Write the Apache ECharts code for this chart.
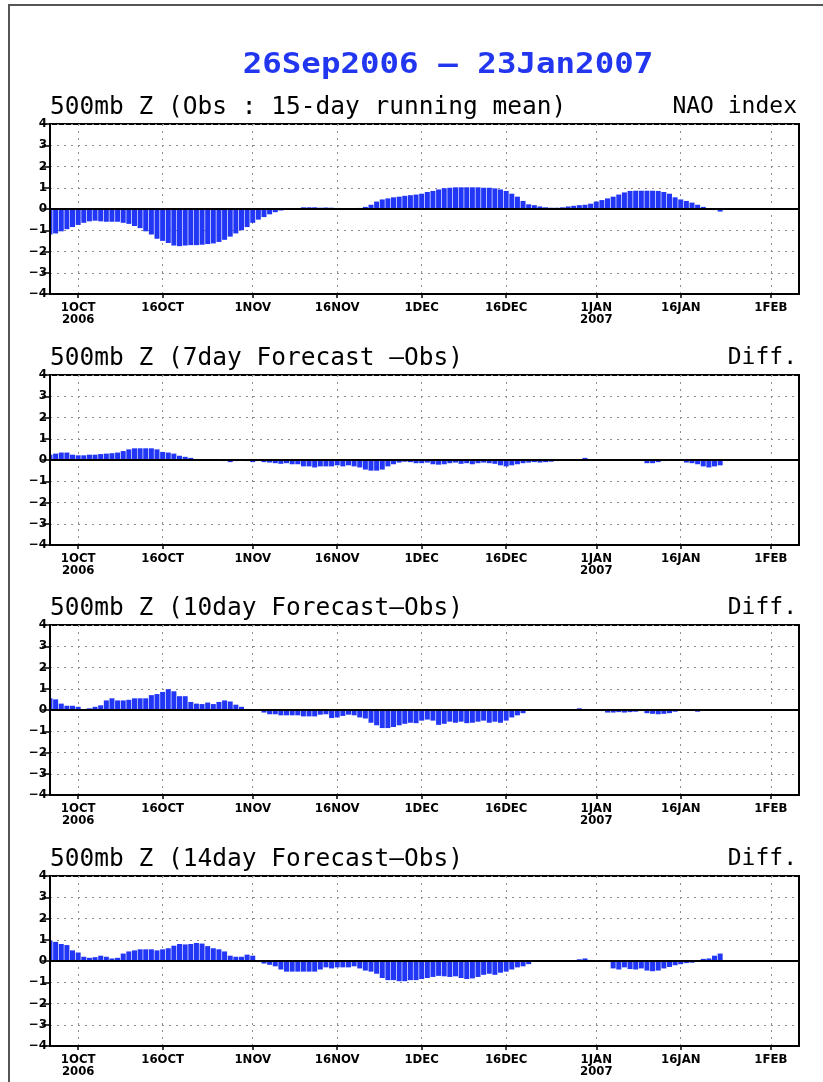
<!DOCTYPE html>
<html><head><meta charset="utf-8">
<script src="https://cdn.jsdelivr.net/npm/echarts@6/dist/echarts.min.js"></script>
<style>html,body{margin:0;padding:0;background:#fff}#c{width:823px;height:1082px}</style>
</head><body><div id="c"></div>
<script>
// Days counted from 1 Oct 2006; first value is 26 Sep 2006
const startDay = -5;
const axisMinDay = -5;   // 26 Sep 2006
const axisMaxDay = 128;  // 6 Feb 2007
const tickDays = [0, 15, 31, 46, 61, 76, 92, 107, 123];
const tickLabels = ['1OCT\n2006', '16OCT', '1NOV', '16NOV', '1DEC', '16DEC', '1JAN\n2007', '16JAN', '1FEB'];
const mainTitle = '26Sep2006 \u2013 23Jan2007';
const panelTitles = [
  '500mb Z (Obs : 15-day running mean)',
  '500mb Z (7day Forecast \u2013Obs)',
  '500mb Z (10day Forecast\u2013Obs)',
  '500mb Z (14day Forecast\u2013Obs)'
];
const panelRight = ['NAO index', 'Diff.', 'Diff.', 'Diff.'];

const nao = [
  -1.2, -1.15, -1.05, -0.95, -0.85,
  -0.75, -0.65, -0.58, -0.55, -0.58, -0.6, -0.6, -0.6, -0.65, -0.7,
  -0.8, -0.9, -1.05, -1.2, -1.4, -1.5, -1.6, -1.72, -1.75, -1.72,
  -1.7, -1.7, -1.68, -1.65, -1.62, -1.55, -1.45, -1.3, -1.15, -1.0,
  -0.85, -0.65, -0.5, -0.38, -0.25, -0.15, -0.07, -0.02, 0.0, 0.02,
  0.08, 0.08, 0.08, 0.06, 0.07, 0.06, 0.05, 0.0, 0.0, 0.02,
  0.05, 0.1, 0.2, 0.35, 0.45, 0.5, 0.55, 0.58, 0.62, 0.65,
  0.68, 0.72, 0.8, 0.85, 0.92, 0.98, 1.0, 1.02, 1.02, 1.02,
  1.02, 1.02, 1.0, 1.0, 0.97, 0.92, 0.85, 0.72, 0.58, 0.38,
  0.22, 0.18, 0.12, 0.08, 0.06, 0.06, 0.08, 0.12, 0.15, 0.18,
  0.2, 0.25, 0.35, 0.42, 0.5, 0.58, 0.68, 0.78, 0.85, 0.86,
  0.86, 0.86, 0.86, 0.85, 0.8, 0.72, 0.55, 0.45, 0.38, 0.3,
  0.2, 0.1, 0.03, -0.05, -0.12
];
const diff7 = [
  0.25, 0.3, 0.35, 0.35, 0.25,
  0.22, 0.22, 0.25, 0.25, 0.28, 0.3, 0.32, 0.35, 0.42, 0.5,
  0.55, 0.55, 0.55, 0.55, 0.5, 0.38, 0.35, 0.3, 0.2, 0.15,
  0.1, 0.02, 0, 0, 0, 0, -0.05, -0.1, -0.05, -0.02,
  -0.05, -0.1, -0.05, -0.1, -0.12, -0.15, -0.18, -0.15, -0.2, -0.2,
  -0.3, -0.3, -0.35, -0.3, -0.3, -0.3, -0.25, -0.3, -0.25, -0.3,
  -0.35, -0.45, -0.5, -0.5, -0.45, -0.3, -0.2, -0.12, -0.08, -0.1,
  -0.15, -0.15, -0.12, -0.2, -0.22, -0.2, -0.15, -0.12, -0.18, -0.15,
  -0.2, -0.15, -0.12, -0.15, -0.18, -0.25, -0.3, -0.25, -0.2, -0.15,
  -0.12, -0.1, -0.12, -0.1, -0.08, -0.05, 0, 0, 0, 0,
  0.1, 0, 0, 0, 0, 0, 0, 0, 0, 0,
  -0.05, -0.15, -0.15, -0.1, -0.05, 0, 0, 0, -0.12, -0.15,
  -0.2, -0.3, -0.35, -0.3, -0.25
];
const diff10 = [
  0.55, 0.5, 0.3, 0.2, 0.2,
  0.15, 0.05, 0.08, 0.15, 0.22, 0.45, 0.55, 0.45, 0.45, 0.48,
  0.55, 0.55, 0.55, 0.7, 0.75, 0.85, 0.98, 0.88, 0.65, 0.65,
  0.38, 0.3, 0.28, 0.35, 0.28, 0.38, 0.45, 0.4, 0.25, 0.15,
  0.05, 0, -0.02, -0.12, -0.2, -0.2, -0.25, -0.25, -0.25, -0.25,
  -0.3, -0.3, -0.3, -0.22, -0.2, -0.38, -0.35, -0.28, -0.22, -0.25,
  -0.35, -0.4, -0.6, -0.72, -0.85, -0.85, -0.8, -0.72, -0.65, -0.6,
  -0.62, -0.5, -0.45, -0.5, -0.7, -0.65, -0.55, -0.6, -0.55, -0.62,
  -0.6, -0.55, -0.5, -0.6, -0.55, -0.6, -0.5, -0.35, -0.25, -0.15,
  0, 0, 0, 0, 0, 0, 0, 0, 0, 0.08,
  0.05, 0, 0, -0.05, -0.12, -0.12, -0.1, -0.12, -0.1, -0.08,
  -0.05, -0.15, -0.18, -0.2, -0.18, -0.15, -0.08, 0, 0, 0,
  -0.08, 0, 0, 0, 0
];
const diff14 = [
  0.95, 0.9, 0.8, 0.75, 0.5,
  0.4, 0.2, 0.15, 0.18, 0.25, 0.2, 0.12, 0.15, 0.35, 0.45,
  0.5, 0.55, 0.55, 0.55, 0.5, 0.55, 0.6, 0.72, 0.8, 0.78,
  0.8, 0.85, 0.82, 0.7, 0.6, 0.55, 0.45, 0.25, 0.2, 0.2,
  0.3, 0.25, -0.05, -0.12, -0.18, -0.25, -0.4, -0.5, -0.5, -0.5,
  -0.5, -0.5, -0.5, -0.4, -0.3, -0.35, -0.3, -0.3, -0.3, -0.25,
  -0.35, -0.45, -0.5, -0.6, -0.8, -0.9, -0.9, -0.95, -0.95, -0.9,
  -0.9, -0.85, -0.8, -0.75, -0.7, -0.72, -0.75, -0.72, -0.8, -0.85,
  -0.82, -0.75, -0.65, -0.6, -0.65, -0.55, -0.5, -0.4, -0.3, -0.25,
  -0.15, 0, 0, 0, 0, 0, 0, 0, 0, 0.08,
  0.12, 0.05, 0, 0, 0, -0.35, -0.4, -0.3, -0.38, -0.4,
  -0.35, -0.45, -0.48, -0.45, -0.35, -0.28, -0.2, -0.15, -0.1, -0.08,
  0, 0.1, 0.12, 0.25, 0.35
];

const panels = [nao, diff7, diff10, diff14];
const tops = [124, 375, 625, 876];
const gridLeft = 50, gridWidth = 749, gridHeight = 170;
const barBlue = '#2236f5';
const dotted = { color: '#8c8c8c', width: 1, type: [2, 5] };

const grids = [], xAxes = [], yAxes = [], series = [], graphics = [];

graphics.push({
  type: 'rect', silent: true,
  shape: { x: 9, y: 5, width: 900, height: 1200 },
  style: { fill: 'none', stroke: '#555', lineWidth: 2 }
});
graphics.push({
  type: 'text', x: 448, y: 66, scaleX: 1.16,
  style: { text: mainTitle, font: 'bold 28px "DejaVu Sans Mono"', fill: '#2236f0', align: 'center', verticalAlign: 'middle' }
});

panels.forEach((vals, i) => {
  grids.push({ left: gridLeft, width: gridWidth, top: tops[i], height: gridHeight, show: true, borderColor: '#000', borderWidth: 2, backgroundColor: 'transparent' });
  xAxes.push({
    gridIndex: i, type: 'value', min: axisMinDay, max: axisMaxDay, position: 'bottom',
    axisLine: { onZero: false, lineStyle: { color: '#000', width: 2 } },
    axisTick: { show: true, customValues: tickDays, length: 4, lineStyle: { color: '#000', width: 1.5 } },
    axisLabel: {
      customValues: tickDays,
      formatter: v => tickLabels[tickDays.indexOf(v)] || '',
      color: '#000', fontFamily: 'DejaVu Sans Condensed', fontWeight: 'bold', fontSize: 13, lineHeight: 12, margin: 8
    },
    splitLine: { show: true, lineStyle: dotted }
  });
  // visible left axis, drawn above the bars so the first bar is cut at the frame
  yAxes.push({
    gridIndex: i, type: 'value', min: -4, max: 4, interval: 1, position: 'left', z: 3,
    axisLine: { show: true, onZero: false, lineStyle: { color: '#000', width: 2 } },
    axisTick: { show: true, length: 8, lineStyle: { color: '#000', width: 1.5 } },
    axisLabel: {
      formatter: v => (v < 0 ? '\u2212' + (-v) : String(v)),
      color: '#000', fontFamily: 'DejaVu Sans', fontWeight: 'bold', fontSize: 12, margin: 3
    },
    splitLine: { show: false }
  });
  // invisible companion axis carrying the dotted horizontal grid under the bars
  yAxes.push({
    gridIndex: i, type: 'value', min: -4, max: 4, interval: 1, position: 'right', z: 0,
    axisLine: { show: false }, axisTick: { show: false }, axisLabel: { show: false },
    splitLine: { show: true, lineStyle: dotted }
  });
  series.push({
    type: 'bar', xAxisIndex: i, yAxisIndex: 2 * i, barWidth: 5, z: 2,
    data: vals.map((v, k) => [startDay + k, v]),
    itemStyle: { color: barBlue },
    markLine: {
      silent: true, symbol: 'none', label: { show: false },
      lineStyle: { color: '#000', width: 2, type: 'solid' },
      data: [{ yAxis: 0 }]
    }
  });
  graphics.push({
    type: 'rect', silent: true, z: 2.5,
    shape: { x: gridLeft - 6, y: tops[i] + 1, width: 5, height: gridHeight - 2 },
    style: { fill: '#fff' }
  });
  graphics.push({
    type: 'text', x: gridLeft, y: tops[i] - 16.5,
    style: { text: panelTitles[i], font: '24.5px "DejaVu Sans Mono"', fill: '#000', align: 'left', verticalAlign: 'middle' }
  });
  graphics.push({
    type: 'text', x: 797, y: tops[i] - 16.5,
    style: { text: panelRight[i], font: '23px "DejaVu Sans Mono"', fill: '#000', align: 'right', verticalAlign: 'middle' }
  });
});

const chart = echarts.init(document.getElementById('c'), null, { renderer: 'canvas' });
chart.setOption({
  animation: false,
  backgroundColor: '#fff',
  grid: grids, xAxis: xAxes, yAxis: yAxes, series: series,
  graphic: graphics
});
</script></body></html>
